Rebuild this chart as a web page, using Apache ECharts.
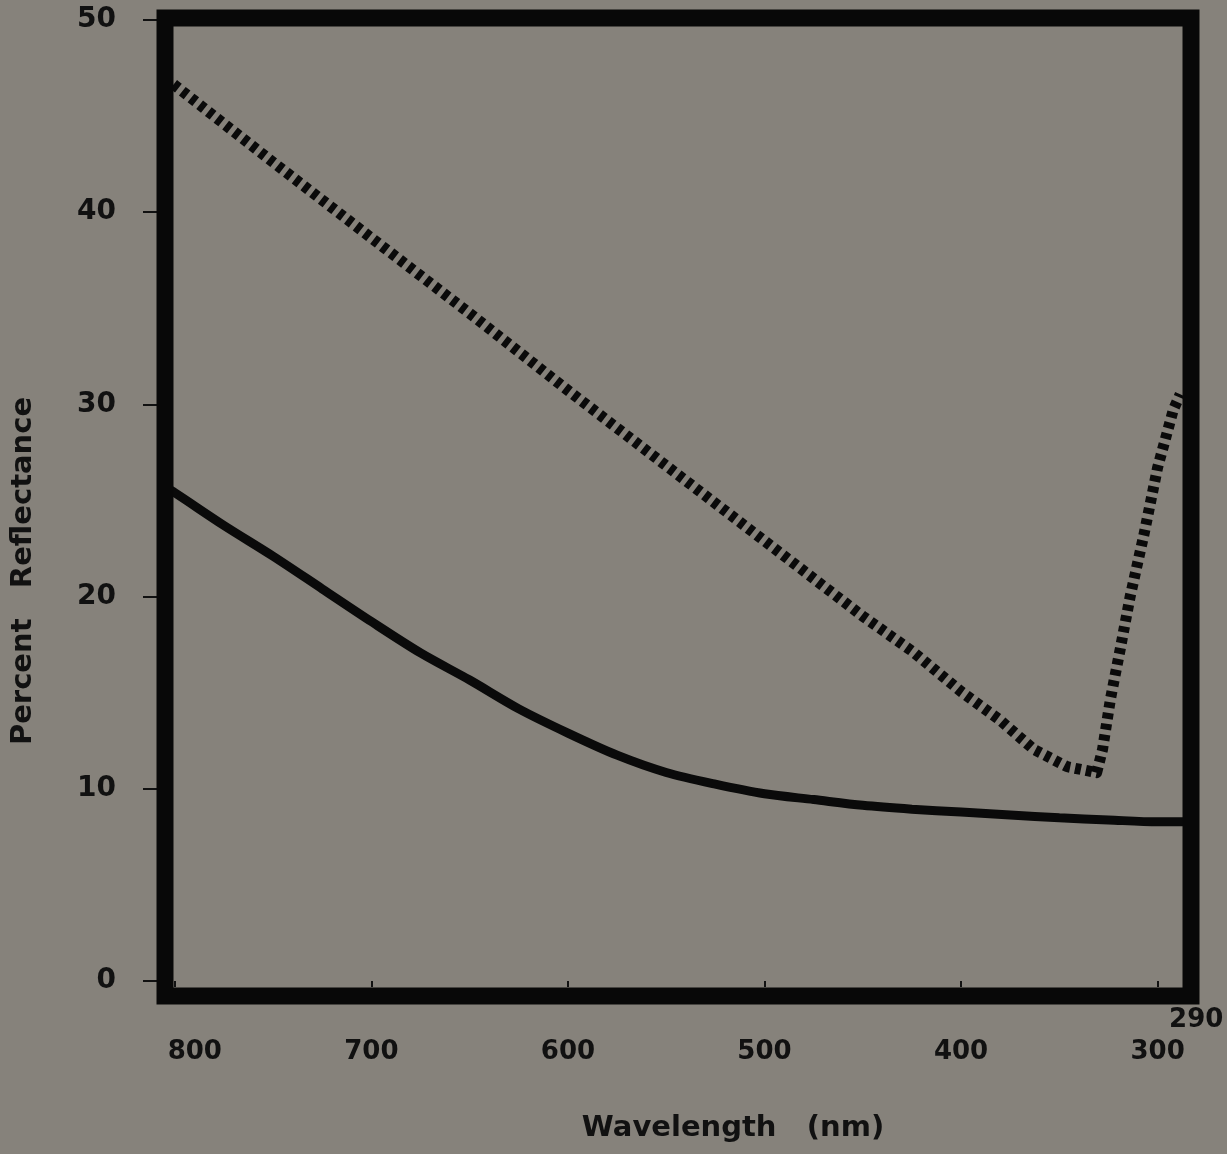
<!DOCTYPE html>
<html>
<head>
<meta charset="utf-8">
<script src="https://cdn.jsdelivr.net/npm/echarts@6/dist/echarts.min.js"></script>
<style>
html,body{margin:0;padding:0;background:#86827b;}
#chart{width:1227px;height:1154px;}
</style>
</head>
<body>
<div id="chart"></div>
<script>
// ---- data ----
var xTicks = [800, 700, 600, 500, 400, 300];
var xEndTick = [290];
var yTicks = [0, 10, 20, 30, 40, 50];

var solidWave = [805, 800, 775, 750, 725, 700, 675, 650, 625, 600, 575, 550, 525, 500, 475, 450, 425, 400, 375, 350, 325, 300, 283];
var solidVals = [25.7, 25.4, 23.7, 22.1, 20.4, 18.7, 17.07, 15.66, 14.16, 12.9, 11.75, 10.85, 10.24, 9.74, 9.44, 9.14, 8.94, 8.79, 8.64, 8.49, 8.38, 8.28, 8.28];

var dottedWave = [805, 800, 750, 700, 650, 600, 550, 500, 450, 425, 400, 380, 363, 346, 331, 328, 324, 319, 314, 307, 300, 292, 288.5];
var dottedVals = [47.0, 46.6, 42.6, 38.66, 34.74, 30.73, 26.81, 22.9, 18.98, 17.17, 15.06, 13.56, 12.05, 11.15, 10.84, 12.05, 14.66, 17.27, 19.98, 23.2, 26.71, 29.72, 30.53];

function pairs(xs, ys){ return xs.map(function(x,i){ return [x, ys[i]]; }); }

var FONT = 'DejaVu Sans';
var chart = echarts.init(document.getElementById('chart'));
chart.setOption({
  backgroundColor: '#86827b',
  animation: false,
  grid: { left: 165, top: 20, width: 1026, height: 961, show: false },
  xAxis: [{
    type: 'value', min: 283, max: 805, inverse: true, position: 'bottom', offset: 31,
    axisLine: { show: false },
    splitLine: { show: false },
    axisTick: { show: true, customValues: xTicks, length: 6, lineStyle: { color: '#111', width: 2 } },
    axisLabel: {
      customValues: xTicks, margin: 27, color: '#111', fontFamily: FONT, fontWeight: 'bold', fontSize: 26,
      formatter: function(v){ return v === 800 ? '{p|800}' : String(v); },
      rich: { p: { padding: [0,0,0,40], color: '#111', fontFamily: FONT, fontWeight: 'bold', fontSize: 26 } }
    }
  }, {
    type: 'value', min: 283, max: 805, inverse: true, position: 'bottom', offset: 0,
    axisLine: { show: false }, splitLine: { show: false }, axisTick: { show: false },
    axisLabel: {
      customValues: xEndTick, margin: 26, color: '#111', fontFamily: FONT, fontWeight: 'bold', fontSize: 26,
      formatter: function(v){ return '{p|' + v + '}'; },
      rich: { p: { padding: [0,0,0,38], color: '#111', fontFamily: FONT, fontWeight: 'bold', fontSize: 26 } }
    }
  }],
  yAxis: {
    type: 'value', min: 0, max: 50, interval: 10,
    axisLine: { show: false }, splitLine: { show: false },
    axisTick: { show: true, length: 22, lineStyle: { color: '#111', width: 2 } },
    axisLabel: { margin: 49, color: '#111', fontFamily: FONT, fontWeight: 'bold', fontSize: 28 }
  },
  graphic: [
    { type: 'rect', z: 100, shape: { x: 165, y: 18, width: 1026, height: 978 },
      style: { fill: 'none', stroke: '#080808', lineWidth: 17 } },
    { type: 'text', x: 733, y: 1128, z: 100,
      style: { text: 'Wavelength   (nm)', font: 'bold 29px "DejaVu Sans"', fill: '#111', align: 'center', verticalAlign: 'middle' } },
    { type: 'text', x: 23, y: 571, rotation: Math.PI / 2, z: 100,
      style: { text: 'Percent   Reflectance', font: 'bold 29px "DejaVu Sans"', fill: '#111', align: 'center', verticalAlign: 'middle' } }
  ],
  series: [{
    type: 'line', data: pairs(solidWave, solidVals), showSymbol: false, smooth: 0.3, clip: false,
    lineStyle: { color: '#0a0a0a', width: 9 }
  }, {
    type: 'line', data: pairs(dottedWave, dottedVals), showSymbol: false, smooth: false, clip: false,
    lineStyle: { color: '#0a0a0a', width: 11, type: [6, 5], cap: 'butt', join: 'round' }
  }]
});
</script>
</body>
</html>
